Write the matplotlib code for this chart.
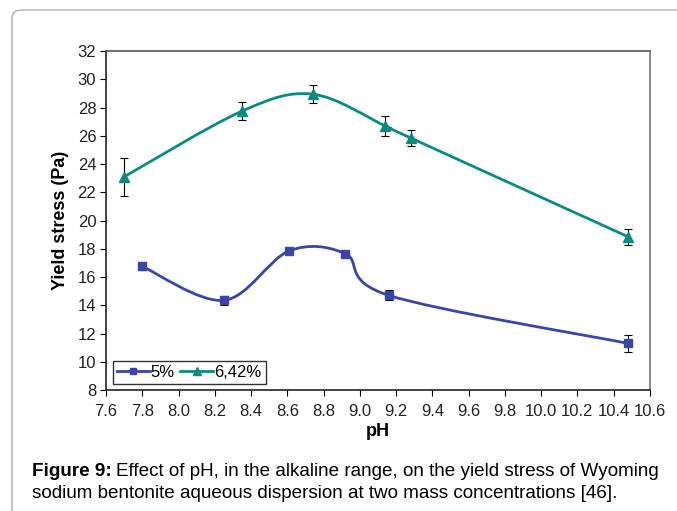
import matplotlib.pyplot as plt
from matplotlib.path import Path
from matplotlib.patches import PathPatch, FancyBboxPatch
from matplotlib.lines import Line2D

plt.rcParams['font.family'] = ['Liberation Sans', 'DejaVu Sans']

# data
ph_5 = [7.80, 8.25, 8.61, 8.92, 9.16, 10.48]
ys_5 = [16.75, 14.35, 17.85, 17.65, 14.7, 11.3]
err_5 = [0.25, 0.3, 0.15, 0.15, 0.35, 0.6]

ph_642 = [7.70, 8.35, 8.74, 9.14, 9.28, 10.48]
ys_642 = [23.1, 27.75, 28.95, 26.7, 25.85, 18.85]
err_642 = [1.35, 0.65, 0.65, 0.7, 0.55, 0.55]

xticks = [7.6, 7.8, 8.0, 8.2, 8.4, 8.6, 8.8, 9.0, 9.2, 9.4, 9.6, 9.8, 10.0, 10.2, 10.4, 10.6]
yticks = list(range(8, 33, 2))

blue = '#3a45a8'
teal = '#0a8a80'


def smooth_path(xs, ys):
    # excel-style smoothed line: bezier segments through the points
    pts = list(zip(xs, ys))
    n = len(pts)
    verts = [pts[0]]
    codes = [Path.MOVETO]
    for i in range(n - 1):
        p0 = pts[i - 1] if i > 0 else pts[i]
        p1 = pts[i]
        p2 = pts[i + 1]
        p3 = pts[i + 2] if i + 2 < n else pts[i + 1]
        c1 = (p1[0] + (p2[0] - p0[0]) / 6, p1[1] + (p2[1] - p0[1]) / 6)
        c2 = (p2[0] - (p3[0] - p1[0]) / 6, p2[1] - (p3[1] - p1[1]) / 6)
        verts += [c1, c2, p2]
        codes += [Path.CURVE4] * 3
    return Path(verts, codes)


fig = plt.figure(figsize=(6.77, 5.11), dpi=100)
ax = fig.add_axes([0.1566, 0.2368, 0.8034, 0.6632])

# outer frame of the figure box
fig.patches.append(FancyBboxPatch((12 / 677, -0.1), 1.2, 1.1 - 10 / 511,
                                  boxstyle='round,pad=0,rounding_size=0.015',
                                  transform=fig.transFigure, fill=False,
                                  edgecolor='#b0b0b0', linewidth=1.0))

for xs, ys, c in [(ph_5, ys_5, blue), (ph_642, ys_642, teal)]:
    ax.add_patch(PathPatch(smooth_path(xs, ys), fill=False, edgecolor=c,
                           linewidth=2.0, zorder=2))

ax.errorbar(ph_5, ys_5, yerr=err_5, fmt='none', ecolor='black',
            elinewidth=0.8, capsize=3, capthick=0.8, zorder=3)
ax.errorbar(ph_642, ys_642, yerr=err_642, fmt='none', ecolor='black',
            elinewidth=0.8, capsize=3, capthick=0.8, zorder=3)
ax.plot(ph_5, ys_5, 's', color=blue, markersize=6, zorder=4)
ax.plot(ph_642, ys_642, '^', color=teal, markersize=7, zorder=4)

ax.set_xlim(7.6, 10.6)
ax.set_ylim(8, 32)
ax.set_xticks(xticks)
ax.set_xticklabels(['%.1f' % v for v in xticks])
ax.set_yticks(yticks)
ax.tick_params(axis='both', direction='out', length=4, width=0.8,
               labelsize=12, colors='black', labelcolor='#222222')
ax.tick_params(axis='x', pad=6)
ax.tick_params(axis='y', pad=3)
for s in ax.spines.values():
    s.set_linewidth(1.2)
ax.spines['left'].set_color('#222222')
ax.spines['bottom'].set_color('#222222')
ax.spines['top'].set_color('#555555')
ax.spines['right'].set_color('#777777')

ax.set_xlabel('pH', fontsize=13, fontweight='bold', labelpad=3)
ax.set_ylabel('Yield stress (Pa)', fontsize=13, fontweight='bold', labelpad=6)

handles = [Line2D([], [], color=blue, marker='s', markersize=5, linewidth=2),
           Line2D([], [], color=teal, marker='^', markersize=6, linewidth=2)]
leg = ax.legend(handles, ['5%', '6,42%'], loc='lower left', ncol=2,
                bbox_to_anchor=(0.012, 0.018), fontsize=12, frameon=True,
                fancybox=False, edgecolor='black', handlelength=2.0,
                handletextpad=0.05, columnspacing=0.3, borderpad=0.25,
                borderaxespad=0)
leg.get_frame().set_linewidth(1.0)

# caption: bold label then plain text right after it
cap_x = 32 / 677
cap_y1 = 1 - 472 / 511
cap_y2 = 1 - 494 / 511
t1 = fig.text(cap_x, cap_y1, 'Figure 9:', fontsize=13.6, fontweight='bold',
              va='center', ha='left')
fig.canvas.draw()
bb = t1.get_window_extent()
fig.text((bb.x1 + 4) / 677, cap_y1,
         'Effect of pH, in the alkaline range, on the yield stress of Wyoming',
         fontsize=13.6, va='center', ha='left')
fig.text(cap_x, cap_y2,
         'sodium bentonite aqueous dispersion at two mass concentrations [46].',
         fontsize=13.6, va='center', ha='left')

fig.savefig('out.png', dpi=100)
